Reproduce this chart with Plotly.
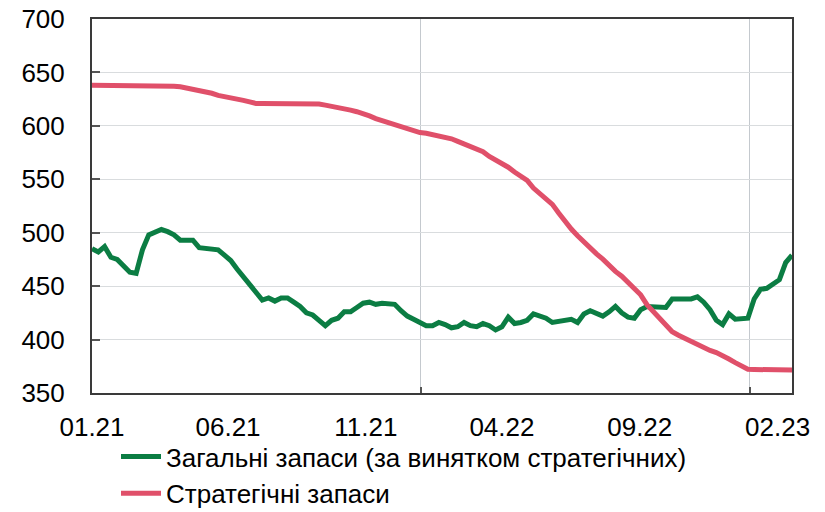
import pandas as pd
import plotly.graph_objects as go

GENERAL_COLOR = "#0b7d43"
STRATEGIC_COLOR = "#e0506a"

# weekly observations, first one on 01.01.2021
start_date = "2021-01-01"
n_weeks = 112

general = [
    485, 482, 487, 477, 475, 469, 463, 462, 484, 498,
    500, 503, 501, 498, 493, 493, 493, 486, 485, 485,
    484, 479, 474, 466, 459, 451, 444, 437, 439, 436,
    439, 439, 435, 431, 425, 423, 418, 413, 418, 420,
    426, 426, 430, 434, 435, 433, 434, 434, 433, 427,
    422, 419, 416, 413, 413, 416, 414, 411, 412, 416,
    413, 412, 415, 413, 409, 412, 421, 415, 416, 418,
    424, 422, 420, 416, 417, 419, 419, 416, 424, 427,
    425, 422, 426, 431, 425, 421, 420, 428, 431, 431,
    431, 430, 438, 438, 439, 438, 440, 435, 428, 418,
    414, 424, 419, 419, 420, 438, 447, 448, 452, 456,
    472, 479,
]

strategic = [
    638, 638, 638, 638, 638, 638, 638, 638, 638, 638,
    638, 638, 638, 637, 636.5, 635.5, 634.5, 633.5, 632, 630.5,
    628.5, 627.5, 626.7, 625.4, 623.9, 622.4, 621, 621, 621, 621,
    621, 621, 621, 621, 621, 621, 620.5, 619.4, 618.4, 617.3,
    616.2, 614.7, 613.2, 611.8, 609.3, 606.8, 605, 603.1, 601.2, 598.9,
    596.6, 594.8, 593.7, 593.1, 591.8, 590.6, 589.3, 587.9, 585.5, 583.2,
    580.8, 578.5, 575.8, 571.4, 568.2, 565.1, 561.3, 556.8, 553.3, 548.9,
    541.8, 536.8, 531.7, 526.5, 518.4, 510.4, 503.4, 497.2, 491.2, 485.2,
    480.2, 475.2, 469.2, 463.8, 459.3, 454, 448.6, 441.9, 432.7, 426.7,
    420.6, 414, 407.4, 404.1, 401, 398.5, 395.2, 391.8, 389.8, 387.8,
    385.3, 381.8, 378.4, 375.2, 372.2, 372, 372, 371.8, 371.7, 371.6,
    371.5, 371.5,
]

tick_dates = ["2021-01-01", "2021-06-01", "2021-11-01", "2022-04-01", "2022-09-01", "2023-02-01"]
tick_labels = ["01.21", "06.21", "11.21", "04.22", "09.22", "02.23"]
year_starts = ["2022-01-01", "2023-01-01"]

dates = pd.date_range(start_date, periods=n_weeks, freq="7D")

fig = go.Figure()
fig.add_trace(
    go.Scatter(
        x=dates,
        y=general,
        mode="lines",
        name="Загальні запаси (за винятком стратегічних)",
        line=dict(color=GENERAL_COLOR, width=5),
    )
)
fig.add_trace(
    go.Scatter(
        x=dates,
        y=strategic,
        mode="lines",
        name="Стратегічні запаси",
        line=dict(color=STRATEGIC_COLOR, width=5),
    )
)

fig.update_layout(
    width=825,
    height=512,
    # the page adds an 8px offset around the figure
    margin=dict(l=84, r=41, t=11, b=127, autoexpand=False),
    plot_bgcolor="white",
    paper_bgcolor="white",
    font=dict(family="Liberation Sans, Arial, sans-serif", size=26, color="black"),
    showlegend=True,
    legend=dict(
        orientation="v",
        x=(108 / 825),
        xref="container",
        xanchor="left",
        y=1 - (425 / 512),
        yref="container",
        yanchor="top",
        bgcolor="rgba(0,0,0,0)",
        font=dict(size=26),
        tracegroupgap=0,
        itemwidth=40,
    ),
    xaxis=dict(
        range=[dates[0], dates[-1]],
        tickmode="array",
        tickvals=tick_dates,
        ticktext=tick_labels,
        ticks="",
        ticklabelstandoff=10,
        ticklabeloverflow="allow",
        automargin=False,
        showgrid=False,
        showline=True,
        linecolor="#3a3a3a",
        linewidth=2,
        mirror=True,
        minor=dict(
            tickmode="array",
            tickvals=year_starts,
            showgrid=True,
            gridcolor="#c4c9ce",
            gridwidth=1,
            ticks="inside",
            ticklen=6,
            tickcolor="#555555",
            tickwidth=2,
        ),
        zeroline=False,
    ),
    yaxis=dict(
        range=[350, 700],
        tickvals=[350, 400, 450, 500, 550, 600, 650, 700],
        ticks="inside",
        ticklen=8,
        tickwidth=2,
        tickcolor="#555555",
        ticklabelstandoff=20,
        ticklabeloverflow="allow",
        automargin=False,
        showgrid=True,
        gridcolor="#d9dcde",
        gridwidth=1,
        showline=True,
        linecolor="#3a3a3a",
        linewidth=2,
        mirror=True,
        zeroline=False,
    ),
)

fig.write_html("out.html")
